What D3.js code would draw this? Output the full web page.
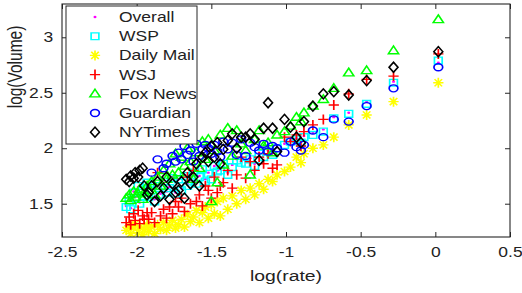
<!DOCTYPE html>
<html>
<head>
<meta charset="utf-8">
<script src="https://cdn.jsdelivr.net/npm/d3@7"></script>
<style>
  body { margin: 0; background: #fff; }
  text { font-family: "Liberation Sans", Arial, sans-serif; fill: #222; }
</style>
</head>
<body>
<svg id="chart" width="522" height="293"></svg>
<script>
// shared x values: log(rate)
var rates = [
  -2.07, -2.05, -2.04, -2.02, -2.01, -1.99, -1.98, -1.96, -1.95, -1.93,
  -1.92, -1.90, -1.88, -1.86, -1.84, -1.82, -1.80, -1.78, -1.76, -1.74,
  -1.72, -1.70, -1.68, -1.66, -1.64, -1.62, -1.60, -1.58, -1.56, -1.54,
  -1.52, -1.50, -1.48, -1.46, -1.44, -1.42, -1.39, -1.36, -1.33, -1.30,
  -1.27, -1.24, -1.21, -1.18, -1.15, -1.12, -1.09, -1.06, -1.01, -0.97,
  -0.93, -0.90, -0.88, -0.82, -0.75, -0.68, -0.58, -0.46, -0.28, 0.02
];

// log(Volume) per source (null = no point)
var overall = [
  1.48, 1.53, 1.46, 1.61, 1.56, 1.65, 1.51, 1.63, 1.58, 1.68,
  1.57, 1.63, 1.54, 1.67, 1.59, 1.71, 1.61, 1.65, 1.74, 1.60,
  1.72, 1.64, 1.76, 1.68, 1.71, 1.79, 1.70, 1.75, 1.82, 1.72,
  1.78, 1.74, 1.84, 1.80, 1.81, 1.87, 1.78, 1.85, 1.90, 1.88,
  1.88, 1.91, 1.86, 1.96, 1.94, 1.98, 1.96, 2.01, 2.04, 2.07,
  2.09, 2.06, 2.11, 2.14, 2.17, 2.28, 2.32, 2.42, 2.60, 2.77
];
var wsp = [
  1.47, 1.52, 1.45, 1.60, 1.55, 1.66, 1.50, 1.62, 1.57, 1.69,
  1.56, 1.62, 1.52, 1.66, 1.58, 1.70, 1.60, 1.64, 1.73, 1.59,
  1.72, 1.62, 1.75, 1.66, 1.70, 1.78, 1.68, 1.74, 1.81, 1.70,
  1.77, 1.72, 1.84, 1.79, 1.80, 1.86, 1.76, 1.83, 1.89, 1.87,
  1.86, 1.90, 1.84, 1.95, 1.92, 1.97, 1.94, 2.00, 2.03, 2.06,
  2.08, 2.05, 2.10, 2.12, 2.15, 2.27, 2.31, 2.40, 2.59, 2.79
];
var dailyMail = [
  1.26, 1.30, 1.23, 1.28, 1.32, 1.24, 1.29, 1.22, 1.27, 1.31,
  1.25, 1.29, 1.23, 1.31, 1.27, 1.33, 1.26, 1.30, 1.35, 1.28,
  1.31, 1.36, 1.29, 1.40, 1.34, 1.38, 1.44, 1.33, 1.42, 1.47,
  1.37, 1.49, 1.41, 1.52, 1.39, 1.55, 1.45, 1.57, 1.50, 1.62,
  1.54, 1.64, 1.58, 1.68, 1.63, 1.72, 1.70, 1.76, 1.79, 1.83,
  1.92, 1.87, 1.95, 2.00, 2.03, 2.10, 2.21, 2.30, 2.42, 2.59
];
var wsj = [
  1.33, 1.38, 1.31, 1.41, 1.35, 1.44, 1.32, 1.39, 1.36, 1.42,
  1.36, 1.42, 1.33, 1.78, 1.39, 1.45, 1.37, 1.47, 1.41, 1.52,
  1.47, 1.55, 1.43, 1.74, 1.50, 1.80, 1.52, 1.58, 1.48, 1.66,
  1.62, 1.55, 1.74, 1.60, 1.66, 1.69, 1.80, 1.64, 1.76, 1.92,
  1.73, 1.88, 1.80, 1.92, 1.86, 1.95, 1.82, 1.85, 2.10, 2.06,
  2.12, 2.02, 2.15, 2.21, 2.26, 2.39, 2.49, 2.62, 2.65, 2.85
];
var foxNews = [
  1.55, 1.58, 1.53, 1.61, 1.56, 1.59, 1.63, 1.54, 1.60, 1.66,
  1.62, 1.70, 1.58, 1.74, 1.66, 1.80, 1.72, 1.86, 1.76, 1.95,
  1.78, 1.92, 1.84, 2.00, 1.88, 1.72, 1.96, 1.82, 2.06, 1.90,
  2.08, 1.52, 1.98, 1.69, 2.12, 1.85, 2.18, 1.93, 2.16, 2.04,
  1.98, 1.76, 2.08, 2.16, 2.02, 2.05, 1.96, 2.12, 2.15, 2.20,
  2.28, 2.24, 2.32, 2.38, 2.44, 2.54, 2.68, 2.70, 2.88, 3.16
];
var guardian = [
  null, null, null, null, null, null, null, null, null, null,
  null, 1.78, null, 1.90, null, 1.82, 1.86, null, 1.93, 1.88,
  1.96, 1.90, 2.02, 1.94, 1.98, 1.88, 2.04, 1.93, 1.99, 2.03,
  2.00, 1.95, 2.03, 1.97, 1.92, 2.06, 1.99, 2.05, 1.94, 2.08,
  1.93, 2.05, 2.01, 1.98, 2.04, 1.97, 2.02, 2.00, 1.96, 2.06,
  2.01, 1.98, 2.03, 2.16, 2.10, 2.26, 2.24, 2.38, 2.54, 2.73
];
var nyTimes = [
  1.72, 1.70, 1.75, 1.73, 1.78, 1.74, 1.80, 1.82, 1.66, 1.58,
  1.60, 1.66, 1.52, 1.70, 1.57, 1.64, 1.74, 1.54, 1.68, 1.60,
  1.62, 1.70, 1.55, 1.78, 1.68, 1.74, 1.86, 1.66, 1.92, 1.96,
  1.88, 2.02, 1.92, 2.05, 1.86, 1.99, 2.07, 2.13, 2.00, 2.10,
  2.10, 2.13, 2.08, 1.89, 2.18, 2.41, 2.18, 1.97, 2.26, 2.19,
  2.10, 2.05, 2.24, 2.38, 2.49, 2.51, 2.48, 2.61, 2.73, 2.87
];

var xTicks = [-2.5, -2, -1.5, -1, -0.5, 0, 0.5];
var yTicks = [1.5, 2, 2.5, 3];

var series = [
  { name: "Overall", values: overall, marker: "point", color: "#ff00ff" },
  { name: "WSP", values: wsp, marker: "square", color: "#00ffff" },
  { name: "Daily Mail", values: dailyMail, marker: "asterisk", color: "#ffff00" },
  { name: "WSJ", values: wsj, marker: "plus", color: "#ff0000" },
  { name: "Fox News", values: foxNews, marker: "triangle", color: "#00ff00" },
  { name: "Guardian", values: guardian, marker: "circle", color: "#0000ff" },
  { name: "NYTimes", values: nyTimes, marker: "diamond", color: "#000000" }
];

var axisColor = "#262626";
var stretch = 1.25; // the picture is widened horizontally
var plot = { left: 62, right: 510, top: 4, bottom: 237 };

var svg = d3.select("#chart");

var x = d3.scaleLinear().domain([-2.5, 0.5]).range([plot.left, plot.right]);
var y = d3.scaleLinear().domain([1.2, 3.3]).range([plot.bottom, plot.top]);

function markerPath(type) {
  var p = d3.path();
  if (type === "square") {
    p.rect(-3.1, -3.4, 6.2, 6.8);
  } else if (type === "circle") {
    p.arc(0, 0, 3.5, 0, 2 * Math.PI);
  } else if (type === "triangle") {
    p.moveTo(0, -4.6); p.lineTo(4.1, 3.1); p.lineTo(-4.1, 3.1); p.closePath();
  } else if (type === "diamond") {
    p.moveTo(0, -5); p.lineTo(3.6, 0); p.lineTo(0, 5); p.lineTo(-3.6, 0); p.closePath();
  } else if (type === "plus") {
    p.moveTo(-4.1, 0); p.lineTo(4.1, 0); p.moveTo(0, -5); p.lineTo(0, 5);
  } else if (type === "asterisk") {
    p.moveTo(-4.1, 0); p.lineTo(4.1, 0); p.moveTo(0, -5); p.lineTo(0, 5);
    p.moveTo(-3, -3.6); p.lineTo(3, 3.6); p.moveTo(-3, 3.6); p.lineTo(3, -3.6);
  } else if (type === "point") {
    p.arc(0, 0, 1.2, 0, 2 * Math.PI);
  }
  return p.toString();
}

function drawMarker(sel, s) {
  sel.append("path")
    .attr("d", markerPath(s.marker))
    .attr("fill", s.marker === "point" ? s.color : "none")
    .attr("stroke", s.marker === "point" ? "none" : s.color)
    .attr("stroke-width", 1.35);
}

svg.append("rect").attr("width", 522).attr("height", 293).attr("fill", "#fff");

svg.append("defs").append("clipPath").attr("id", "plot-clip")
  .append("rect")
  .attr("x", plot.left).attr("y", plot.top)
  .attr("width", plot.right - plot.left).attr("height", plot.bottom - plot.top);

// data, drawn in legend order so NYTimes ends on top
var marks = svg.append("g").attr("clip-path", "url(#plot-clip)");
series.forEach(function(s) {
  var pts = rates
    .map(function(r, i) { return { rate: r, vol: s.values[i] }; })
    .filter(function(d) { return d.vol != null; });
  marks.append("g")
    .selectAll("g")
    .data(pts)
    .enter()
    .append("g")
    .attr("transform", function(d) {
      return "translate(" + x(d.rate) + "," + y(d.vol) + ") scale(" + stretch + ",1)";
    })
    .each(function() { drawMarker(d3.select(this), s); });
});

// axes, ticks inside on all four sides
function styleAxis(g) {
  g.select(".domain").remove();
  g.selectAll(".tick line").attr("stroke", axisColor);
}

svg.append("g")
  .attr("transform", "translate(0," + plot.bottom + ")")
  .call(d3.axisBottom(x).tickValues(xTicks).tickSize(-5).tickPadding(10)
    .tickFormat(function(d) { return String(d); }))
  .call(styleAxis)
  .selectAll(".tick text")
  .attr("font-size", 14)
  .attr("fill", "#222")
  .attr("transform", "scale(" + stretch + ",1)");

svg.append("g")
  .attr("transform", "translate(0," + plot.top + ")")
  .call(d3.axisTop(x).tickValues(xTicks).tickSize(-5).tickFormat(""))
  .call(styleAxis);

svg.append("g")
  .attr("transform", "translate(" + plot.left + ",0)")
  .call(d3.axisLeft(y).tickValues(yTicks).tickSize(-5).tickPadding(0)
    .tickFormat(function(d) { return String(d); }))
  .call(styleAxis)
  .selectAll(".tick text")
  .attr("font-size", 14)
  .attr("fill", "#222")
  .attr("x", -7)
  .attr("transform", "scale(" + stretch + ",1)");

svg.append("g")
  .attr("transform", "translate(" + plot.right + ",0)")
  .call(d3.axisRight(y).tickValues(yTicks).tickSize(-5).tickFormat(""))
  .call(styleAxis);

svg.append("rect")
  .attr("x", plot.left).attr("y", plot.top)
  .attr("width", plot.right - plot.left).attr("height", plot.bottom - plot.top)
  .attr("fill", "none")
  .attr("stroke", axisColor)
  .attr("stroke-width", 1.1);

// axis labels
svg.append("text")
  .attr("transform", "translate(286,281) scale(" + stretch + ",1)")
  .attr("text-anchor", "middle")
  .attr("font-size", 15.5)
  .text("log(rate)");

svg.append("text")
  .attr("transform", "translate(22,67) rotate(-90) scale(1," + stretch + ")")
  .attr("text-anchor", "middle")
  .attr("font-size", 15.5)
  .text("log(Volume)");

// legend
var legend = svg.append("g");
legend.append("rect")
  .attr("x", 66).attr("y", 6)
  .attr("width", 131).attr("height", 138)
  .attr("fill", "#fff")
  .attr("stroke", axisColor)
  .attr("stroke-width", 1);

series.forEach(function(s, i) {
  var ly = 17 + i * 19.2;
  var row = legend.append("g");
  var m = row.append("g")
    .attr("transform", "translate(95," + ly + ") scale(" + stretch + ",1)");
  drawMarker(m, s);
  row.append("text")
    .attr("transform", "translate(119," + (ly + 5) + ") scale(" + stretch + ",1)")
    .attr("font-size", 14)
    .text(s.name);
});
</script>
</body>
</html>
